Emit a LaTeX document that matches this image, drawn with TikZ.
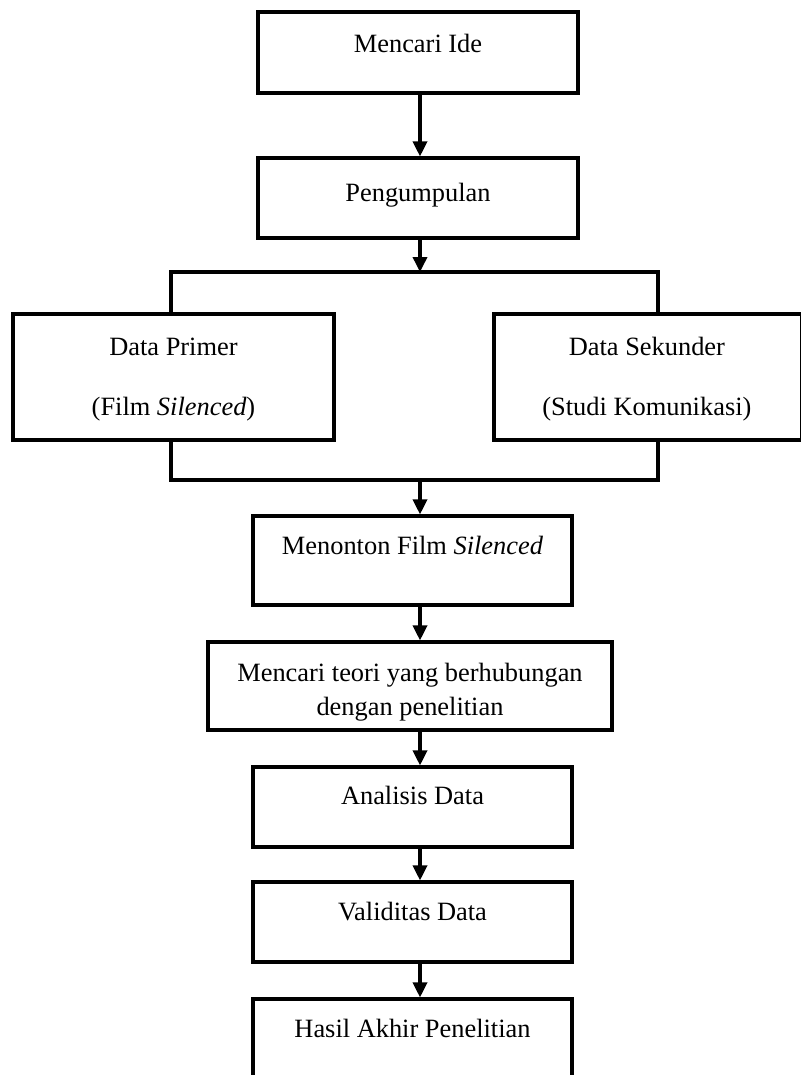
\documentclass[tikz,border=0pt]{standalone}
\usepackage{fontspec}
\setmainfont{Liberation Serif}
\usetikzlibrary{arrows.meta, positioning, calc}

\begin{document}
\begin{tikzpicture}[
  x=0.4545pt, y=-0.4545pt,
  >={Triangle[length=6.8pt, width=6.4pt]},
  procbox/.style 2 args={draw, rectangle, line width=1.45pt, minimum width=#1*0.4545pt, minimum height=#2*0.4545pt, inner sep=0pt},
  boxtext/.style={anchor=base, inner sep=0pt, align=center, font=\fontsize{12}{13.8}\selectfont},
  flow/.style={->, line width=1.45pt, black},
  link/.style={line width=1.45pt, black, line join=miter}
]
\path[use as bounding box, clip] (0,0) rectangle (801,1075);

% main arrow axis and the fork points
\coordinate (axis) at (420,0);
\coordinate (splitT) at (420,272);
\coordinate (forkL) at (171,272);
\coordinate (forkR) at (658,272);
\coordinate (joinL) at (171,480);
\coordinate (joinR) at (658,480);
\coordinate (joinM) at (420,480);

\node[procbox={320}{81}] (Ide) at (418,52.5) {};
\node[procbox={320}{80}] (Kumpul) at (418,198) {};
\node[procbox={321}{126}] (Primer) at (173.5,377) {};
\node[procbox={308}{126}] (Sekunder) at (648,377) {};
\node[procbox={319}{89}] (Nonton) at (412.5,560.5) {};
\node[procbox={404}{88}] (Teori) at (410,686) {};
\node[procbox={319}{80}] (Analisis) at (412.5,807) {};
\node[procbox={319}{80}] (Validitas) at (412.5,922) {};
\node[procbox={319}{111}] (Hasil) at (412.5,1054.5) {};

\node[boxtext] (Ide_T) at ([yshift=-19pt]Ide.north) {Mencari Ide};
\node[boxtext] (Kumpul_T) at ([yshift=-20.6pt]Kumpul.north) {Pengumpulan};
\node[boxtext] (Primer_T) at ([yshift=-47pt]Primer.north) {Data Primer\\[13.5pt](Film \textit{Silenced})};
\node[boxtext] (Sekunder_T) at ([xshift=-0.5pt, yshift=-47pt]Sekunder.north) {Data Sekunder\\[13.5pt](Studi Komunikasi)};
\node[boxtext] (Nonton_T) at ([yshift=-18.2pt]Nonton.north) {Menonton Film \textit{Silenced}};
\node[boxtext, font=\fontsize{12}{15.5}\selectfont] (Teori_T) at ([yshift=-34.3pt]Teori.north) {Mencari teori yang berhubungan\\dengan penelitian};
\node[boxtext] (Analisis_T) at ([yshift=-17.6pt]Analisis.north) {Analisis Data};
\node[boxtext] (Validitas_T) at ([yshift=-18.4pt]Validitas.north) {Validitas Data};
\node[boxtext] (Hasil_T) at ([yshift=-18pt]Hasil.north) {Hasil Akhir Penelitian};

\draw[flow] (Ide.south -| axis) -- (Kumpul.north -| axis);
\draw[flow] (Kumpul.south -| axis) -- (splitT);

% split into the two data sources
\draw[link] (Primer.north -| forkL) -- (forkL) -- (forkR) -- (Sekunder.north -| forkR);
\draw[link] (Primer.south -| joinL) -- (joinL) -- (joinR) -- (Sekunder.south -| joinR);

\draw[flow] (joinM) -- (Nonton.north -| axis);
\draw[flow] (Nonton.south -| axis) -- (Teori.north -| axis);
\draw[flow] (Teori.south -| axis) -- (Analisis.north -| axis);
\draw[flow] (Analisis.south -| axis) -- (Validitas.north -| axis);
\draw[flow] (Validitas.south -| axis) -- (Hasil.north -| axis);
\end{tikzpicture}
\end{document}
